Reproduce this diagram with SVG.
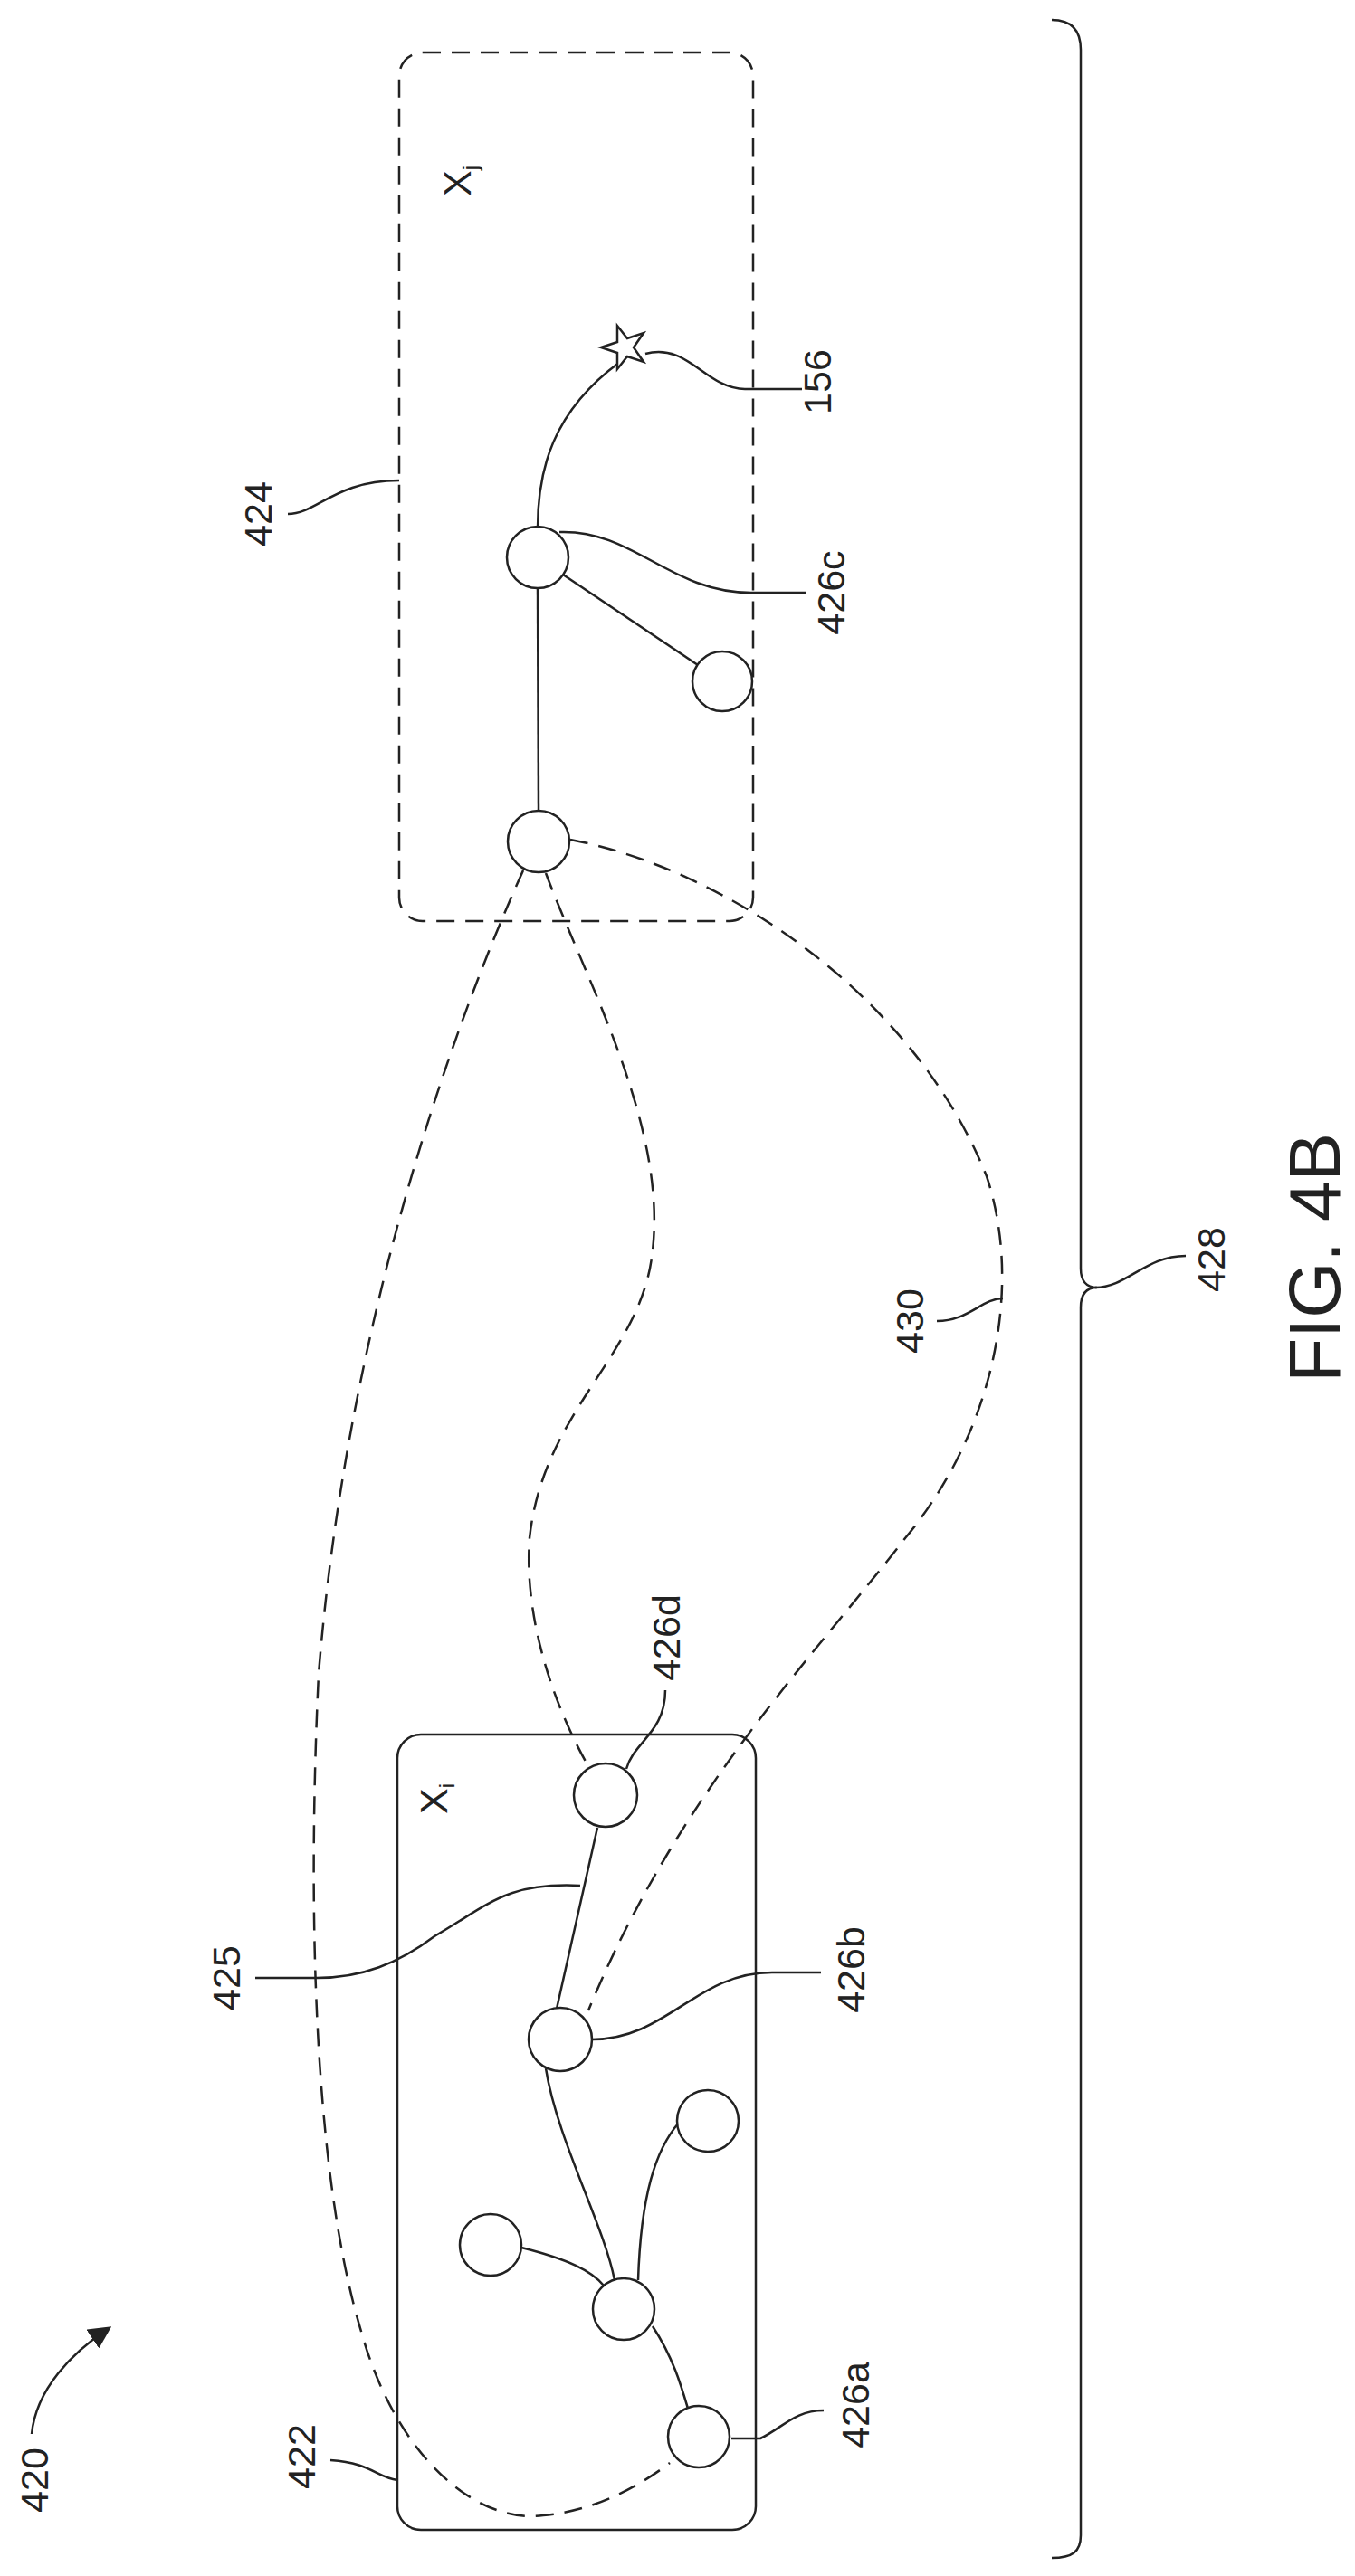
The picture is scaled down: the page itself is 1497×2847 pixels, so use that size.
<svg xmlns="http://www.w3.org/2000/svg" width="1497" height="2847" viewBox="0 0 1497 2847">
<style>
.s{fill:none;stroke:#222;stroke-width:2.5}
.d{fill:none;stroke:#222;stroke-width:2.5;stroke-dasharray:20 12}
.n{fill:#fff;stroke:#222;stroke-width:2.5}
.t{font-family:"Liberation Sans",Arial,sans-serif;font-size:43px;fill:#222}
</style>
<defs><marker id="a" markerWidth="10" markerHeight="10" refX="8" refY="5" orient="auto"><path d="M0,0 L10,5 L0,10 z" fill="#222"/></marker></defs>
<rect width="1497" height="2847" fill="#fff"/>
<g id="box424"><rect class="d" x="441" y="58" width="391" height="960" rx="26"/></g>
<g id="box422"><rect class="s" x="439" y="1917" width="396" height="879" rx="26"/></g>
<g id="connectors">
<path class="d" d="M578 962 C480 1180 380 1500 352 1850 C340 2100 345 2400 400 2580 C440 2720 530 2790 600 2780 C660 2775 710 2745 740 2722"/>
<path class="d" d="M603 965 C650 1090 740 1250 720 1390 C705 1500 600 1560 585 1700 C578 1800 620 1900 650 1952"/>
<path class="d" d="M630 928 C800 960 1010 1100 1090 1300 C1130 1420 1100 1580 1000 1700 C900 1830 750 1980 650 2222"/>
<path class="s" d="M594 584 C594 520 610 455 685 400"/>
<path class="s" d="M594 650 L595 896"/>
<path class="s" d="M622 635 L771 735"/>
<path class="s" d="M660 2020 L615 2220"/>
<path class="s" d="M603 2286 C615 2363 667 2459 679 2520"/>
<path class="s" d="M705 2520 C708 2427 724 2376 750 2346"/>
<path class="s" d="M576 2484 C628 2497 654 2510 667 2526"/>
<path class="s" d="M721 2571 C744 2606 753 2638 760 2662"/>
<path class="s" d="M713 391 C760 378 780 430 823 430 L886 430"/>
<path class="s" d="M618 588 C700 585 740 655 830 655 L890 655"/>
<path class="s" d="M641 2084 C560 2080 540 2105 480 2140 C440 2170 400 2186 350 2186 L282 2186"/>
<path class="s" d="M654 2254 C737 2254 769 2180 853 2180 L907 2180"/>
<path class="s" d="M808 2695 L840 2695 C865 2683 878 2664 910 2664"/>
<path class="s" d="M692 1955 C700 1925 735 1915 735 1868"/>
<path class="s" d="M365 2719 C410 2722 416 2738 439 2741"/>
<path class="s" d="M318 568 C350 568 370 531 441 531"/>
<path class="s" d="M1035 1460 C1070 1460 1085 1435 1108 1435"/>
<path class="s" d="M1210 1423 C1245 1423 1265 1388 1310 1388"/>
<path class="s" d="M1162 22 C1185 22 1194 35 1194 55 L1194 1402 C1194 1415 1200 1423 1212 1423 C1200 1423 1194 1431 1194 1445 L1194 2802 C1194 2820 1185 2827 1162 2827"/>
<path class="s" marker-end="url(#a)" d="M35 2690 C40 2640 80 2600 119 2574"/>
</g>
<g id="n426c"><circle class="n" cx="594" cy="616" r="34"/></g>
<g id="n424r"><circle class="n" cx="798" cy="753" r="33"/></g>
<g id="n424b"><circle class="n" cx="595" cy="930" r="34"/></g>
<g id="star156"><polygon class="n" points="690,358 696,376 714,376 700,387 706,405 690,394 674,405 680,387 666,376 684,376" transform="rotate(-90 690 384)"/></g>
<g id="n426d"><circle class="n" cx="669" cy="1984" r="35"/></g>
<g id="n426b"><circle class="n" cx="619" cy="2254" r="35"/></g>
<g id="n422ur"><circle class="n" cx="782" cy="2344" r="34"/></g>
<g id="n422l"><circle class="n" cx="542" cy="2481" r="34"/></g>
<g id="n422m"><circle class="n" cx="689" cy="2552" r="34"/></g>
<g id="n426a"><circle class="n" cx="772" cy="2693" r="34"/></g>
<g id="labels">
<text class="t" transform="translate(520 200) rotate(-90)" text-anchor="middle">X<tspan style="font-size:24px" dy="8">j</tspan></text>
<text class="t" transform="translate(494 1988) rotate(-90)" text-anchor="middle">X<tspan style="font-size:24px" dy="8">i</tspan></text>
<text class="t" transform="translate(918 422) rotate(-90)" text-anchor="middle">156</text>
<text class="t" transform="translate(933 655) rotate(-90)" text-anchor="middle">426c</text>
<text class="t" transform="translate(300 568) rotate(-90)" text-anchor="middle">424</text>
<text class="t" transform="translate(751 1810) rotate(-90)" text-anchor="middle">426d</text>
<text class="t" transform="translate(265 2186) rotate(-90)" text-anchor="middle">425</text>
<text class="t" transform="translate(955 2177) rotate(-90)" text-anchor="middle">426b</text>
<text class="t" transform="translate(960 2658) rotate(-90)" text-anchor="middle">426a</text>
<text class="t" transform="translate(348 2715) rotate(-90)" text-anchor="middle">422</text>
<text class="t" transform="translate(53 2741) rotate(-90)" text-anchor="middle">420</text>
<text class="t" transform="translate(1020 1460) rotate(-90)" text-anchor="middle">430</text>
<text class="t" transform="translate(1353 1392) rotate(-90)" text-anchor="middle">428</text>
<text class="t" transform="translate(1480 1390) rotate(-90)" text-anchor="middle" style="font-size:80px">FIG. 4B</text>
</g>
</svg>
